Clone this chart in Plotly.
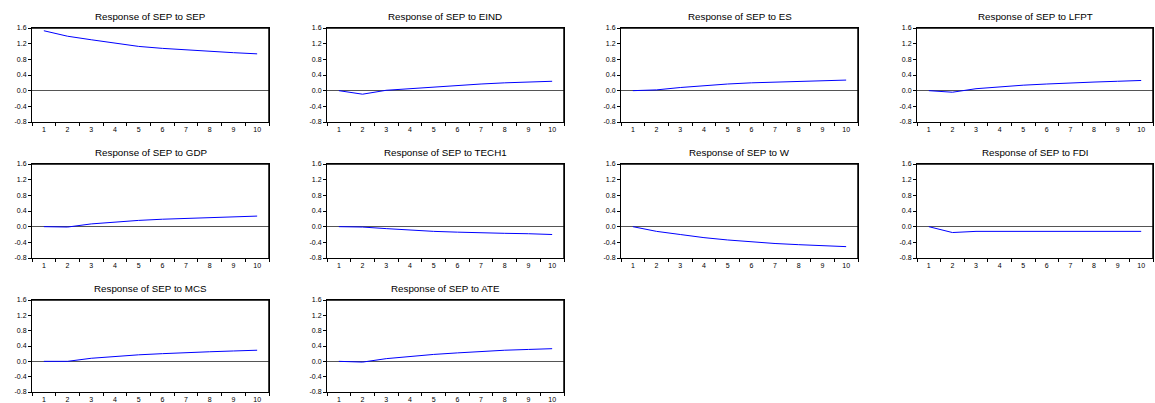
import plotly.graph_objects as go

periods = [1, 2, 3, 4, 5, 6, 7, 8, 9, 10]
shocks = ["SEP", "EIND", "ES", "LFPT", "GDP", "TECH1", "W", "FDI", "MCS", "ATE"]

resp_SEP = [1.53, 1.39, 1.30, 1.21, 1.13, 1.08, 1.04, 1.00, 0.97, 0.94]
resp_EIND = [0.00, -0.09, 0.01, 0.05, 0.10, 0.14, 0.17, 0.20, 0.22, 0.24]
resp_ES = [0.00, 0.02, 0.08, 0.13, 0.17, 0.20, 0.22, 0.24, 0.26, 0.27]
resp_LFPT = [0.00, -0.04, 0.05, 0.10, 0.14, 0.17, 0.20, 0.22, 0.24, 0.26]
resp_GDP = [0.00, -0.01, 0.07, 0.12, 0.16, 0.19, 0.21, 0.23, 0.25, 0.27]
resp_TECH1 = [0.00, -0.01, -0.05, -0.09, -0.12, -0.14, -0.16, -0.17, -0.18, -0.20]
resp_W = [0.00, -0.12, -0.20, -0.28, -0.34, -0.39, -0.43, -0.46, -0.49, -0.51]
resp_FDI = [0.00, -0.15, -0.12, -0.12, -0.12, -0.12, -0.12, -0.12, -0.12, -0.12]
resp_MCS = [0.00, 0.00, 0.08, 0.13, 0.17, 0.20, 0.23, 0.25, 0.27, 0.29]
resp_ATE = [0.00, -0.02, 0.07, 0.13, 0.18, 0.22, 0.26, 0.29, 0.31, 0.33]

responses = [resp_SEP, resp_EIND, resp_ES, resp_LFPT, resp_GDP,
             resp_TECH1, resp_W, resp_FDI, resp_MCS, resp_ATE]

y_ticks = [-0.8, -0.4, 0.0, 0.4, 0.8, 1.2, 1.6]
y_labels = ["-0.8", "-0.4", "0.0", "0.4", "0.8", "1.2", "1.6"]

W, H = 1155, 403
col_px = [(32, 269), (327, 564), (621, 858), (917, 1153)]
row_px = [(28, 122), (164, 258), (300, 392)]

fig = go.Figure()
font = "Liberation Sans, Arial, sans-serif"

for i, (name, vals) in enumerate(zip(shocks, responses)):
    r, c = divmod(i, 4)
    k = i + 1
    xa = "x" if k == 1 else f"x{k}"
    ya = "y" if k == 1 else f"y{k}"
    fig.add_trace(go.Scatter(x=periods, y=vals, mode="lines",
                             line=dict(color="#0000ff", width=1),
                             xaxis=xa, yaxis=ya, showlegend=False,
                             hoverinfo="skip"))
    x0, x1 = col_px[c]
    y0, y1 = row_px[r]
    dx = [x0 / W, x1 / W]
    dy = [1 - y1 / H, 1 - y0 / H]
    xkey = "xaxis" if k == 1 else f"xaxis{k}"
    ykey = "yaxis" if k == 1 else f"yaxis{k}"
    fig.layout[xkey] = dict(
        domain=dx, anchor=ya, range=[0.5, 10.5], automargin=False,
        tickmode="array", tickvals=periods, ticktext=[str(p) for p in periods],
        ticks="", ticklabelstandoff=1, showgrid=False, zeroline=False,
        showline=True, linecolor="#000000", linewidth=1, mirror=True,
        tickfont=dict(size=7, family=font, color="#000000"),
        minor=dict(tickmode="array", tickvals=[p + 0.5 for p in [0] + periods],
                   ticks="outside", ticklen=3, tickcolor="#000000", tickwidth=1),
        fixedrange=True,
    )
    fig.layout[ykey] = dict(
        domain=dy, anchor=xa, range=[-0.8, 1.6], automargin=False,
        tickmode="array", tickvals=y_ticks, ticktext=y_labels,
        ticks="outside", ticklen=3, tickcolor="#000000",
        showgrid=False, zeroline=True, zerolinecolor="#555555", zerolinewidth=1,
        showline=True, linecolor="#000000", linewidth=1, mirror=True,
        tickfont=dict(size=7, family=font, color="#000000"),
        fixedrange=True,
    )
    # thicker top and right edges
    fig.add_shape(type="line", xref=f"{xa} domain", yref=f"{ya} domain",
                  x0=0, x1=1, y0=1, y1=1, line=dict(color="#000000", width=1.5))
    fig.add_shape(type="line", xref=f"{xa} domain", yref=f"{ya} domain",
                  x0=1, x1=1, y0=0, y1=1, line=dict(color="#000000", width=1.5))
    fig.add_annotation(text=f"Response of SEP to {name}", showarrow=False,
                       xref="paper", yref="paper",
                       x=(dx[0] + dx[1]) / 2, y=1 - (y0 - 12) / H,
                       xanchor="center", yanchor="middle",
                       font=dict(size=9.8, family=font, color="#000000"))

fig.update_layout(width=W, height=H, margin=dict(l=0, r=0, t=0, b=0, autoexpand=False),
                  paper_bgcolor="white", plot_bgcolor="white")

fig.write_html("out.html", config={"displayModeBar": False},
               post_script="document.body.style.margin='0';document.body.style.overflow='hidden';")
